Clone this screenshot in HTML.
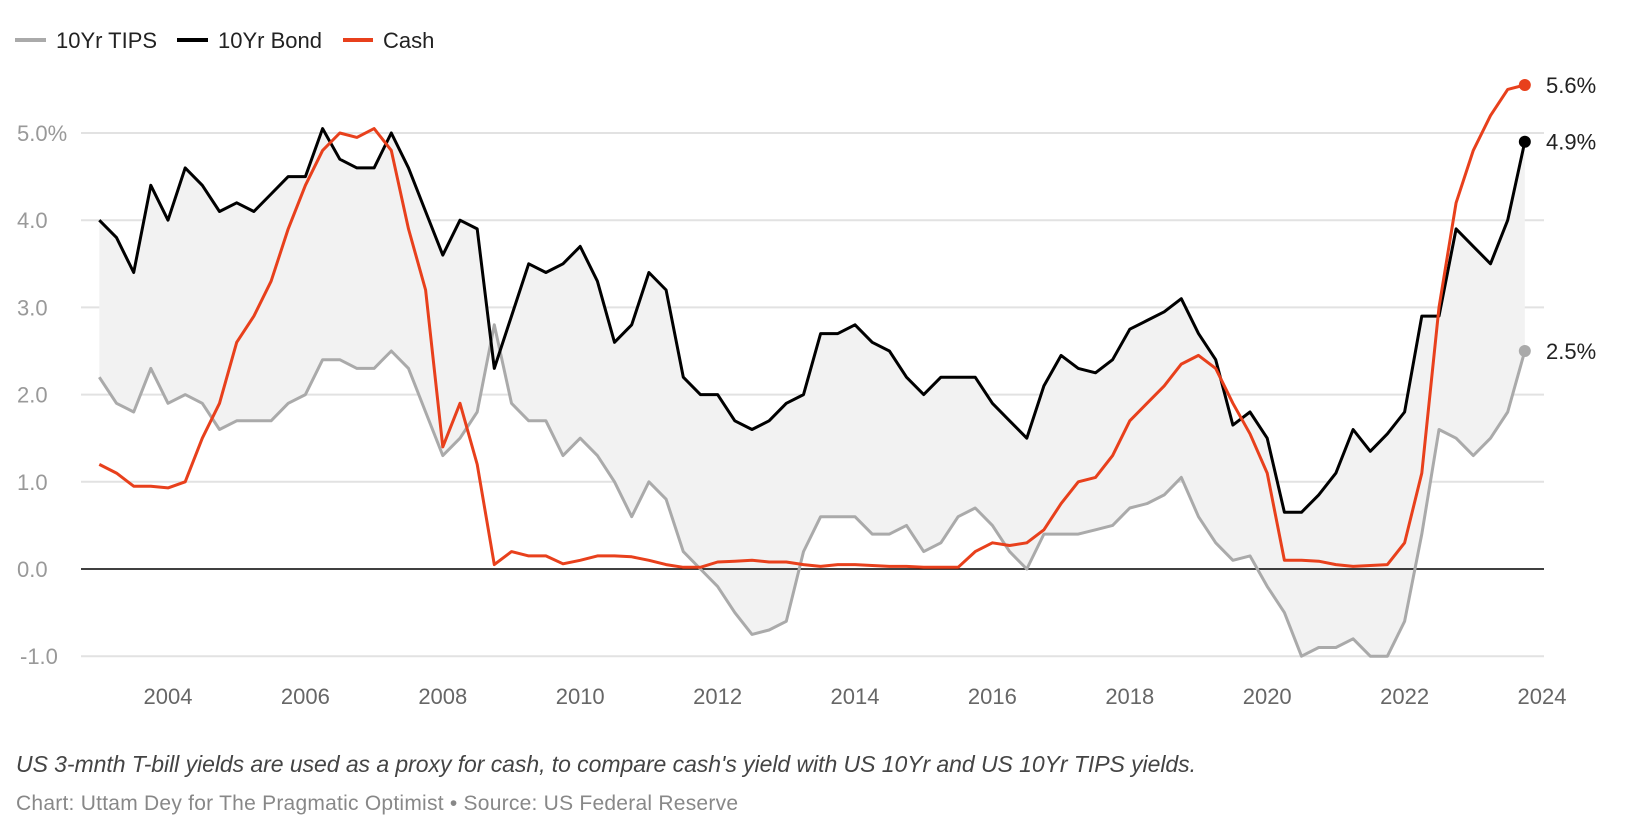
<!DOCTYPE html>
<html><head><meta charset="utf-8"><style>
body{margin:0;background:#fff;width:1630px;height:834px;overflow:hidden;font-family:"Liberation Sans",sans-serif}
svg{display:block}
</style></head><body>
<svg id="chart" width="1630" height="834">
<g id="legend">
 <g><line x1="15" y1="40" x2="46" y2="40" stroke="#aaa" stroke-width="4"/><text x="56" y="48" font-size="22" fill="#222">10Yr TIPS</text></g>
 <g><line x1="177" y1="40" x2="208" y2="40" stroke="#000" stroke-width="4"/><text x="218" y="48" font-size="22" fill="#222">10Yr Bond</text></g>
 <g><line x1="343" y1="40" x2="373" y2="40" stroke="#e8401c" stroke-width="4"/><text x="383" y="48" font-size="22" fill="#222">Cash</text></g>
</g>
<g id="grid"></g>
<g id="area"></g>
<g id="lines"></g>
<g id="xaxis"></g>
<text x="16" y="772" font-size="23" font-style="italic" fill="#444" textLength="1180">US 3-mnth T-bill yields are used as a proxy for cash, to compare cash's yield with US 10Yr and US 10Yr TIPS yields.</text>
<text x="16" y="810" font-size="21" fill="#888" textLength="722">Chart: Uttam Dey for The Pragmatic Optimist • Source: US Federal Reserve</text>
</svg>
<script>
const startYear = 2003.0;
const stepYears = 0.25;
const tips = [2.2,1.9,1.8,2.3, 1.9,2.0,1.9,1.6, 1.7,1.7,1.7,1.9, 2.0,2.4,2.4,2.3, 2.3,2.5,2.3,1.8, 1.3,1.5,1.8,2.8, 1.9,1.7,1.7,1.3, 1.5,1.3,1.0,0.6, 1.0,0.8,0.2,0.0, -0.2,-0.5,-0.75,-0.7, -0.6,0.2,0.6,0.6, 0.6,0.4,0.4,0.5, 0.2,0.3,0.6,0.7, 0.5,0.2,0.0,0.4, 0.4,0.4,0.45,0.5, 0.7,0.75,0.85,1.05, 0.6,0.3,0.1,0.15, -0.2,-0.5,-1.0,-0.9, -0.9,-0.8,-1.0,-1.0, -0.6,0.4,1.6,1.5, 1.3,1.5,1.8,2.5];
const bond = [4.0,3.8,3.4,4.4, 4.0,4.6,4.4,4.1, 4.2,4.1,4.3,4.5, 4.5,5.05,4.7,4.6, 4.6,5.0,4.6,4.1, 3.6,4.0,3.9,2.3, 2.9,3.5,3.4,3.5, 3.7,3.3,2.6,2.8, 3.4,3.2,2.2,2.0, 2.0,1.7,1.6,1.7, 1.9,2.0,2.7,2.7, 2.8,2.6,2.5,2.2, 2.0,2.2,2.2,2.2, 1.9,1.7,1.5,2.1, 2.45,2.3,2.25,2.4, 2.75,2.85,2.95,3.1, 2.7,2.4,1.65,1.8, 1.5,0.65,0.65,0.85, 1.1,1.6,1.35,1.55, 1.8,2.9,2.9,3.9, 3.7,3.5,4.0,4.9];
const cash = [1.2,1.1,0.95,0.95, 0.93,1.0,1.5,1.9, 2.6,2.9,3.3,3.9, 4.4,4.8,5.0,4.95, 5.05,4.8,3.9,3.2, 1.4,1.9,1.2,0.05, 0.2,0.15,0.15,0.06, 0.1,0.15,0.15,0.14, 0.1,0.05,0.02,0.02, 0.08,0.09,0.1,0.08, 0.08,0.05,0.03,0.05, 0.05,0.04,0.03,0.03, 0.02,0.02,0.02,0.2, 0.3,0.27,0.3,0.45, 0.75,1.0,1.05,1.3, 1.7,1.9,2.1,2.35, 2.45,2.3,1.9,1.55, 1.1,0.1,0.1,0.09, 0.05,0.03,0.04,0.05, 0.3,1.1,3.0,4.2, 4.8,5.2,5.5,5.55];
const yTicks = [5,4,3,2,1,0,-1];
const yTickLabels = ["5.0%","4.0","3.0","2.0","1.0","0.0","-1.0"];
const xTicks = [2004,2006,2008,2010,2012,2014,2016,2018,2020,2022,2024];

const NS="http://www.w3.org/2000/svg";
const xs = t => 168 + 68.7*(t-2004);
const ys = v => 569 - 87.2*v;
const tAt = i => startYear + i*stepYears;
function mk(tag, attrs, parent){const e=document.createElementNS(NS,tag);for(const k in attrs)e.setAttribute(k,attrs[k]);parent.appendChild(e);return e;}

const grid=document.getElementById('grid');
yTicks.forEach((v,i)=>{
  if(v!==0){const l=mk('line',{x1:81,x2:1544,y1:ys(v),y2:ys(v),stroke:'#e2e2e2','stroke-width':2},grid);
  
  }
  const t=mk('text',{x:v<0?20:17,y:ys(v)+8,'font-size':22,fill:'#999'},grid);
  t.textContent=yTickLabels[i];
  
  
});
const xa=document.getElementById('xaxis');
xTicks.forEach(y=>{
  const t=mk('text',{x:xs(y),y:704,'font-size':22,fill:'#666','text-anchor':'middle'},xa);
  t.textContent=String(y);
  
  
});

const area=document.getElementById('area');
let pts=bond.map((v,i)=>xs(tAt(i))+','+ys(v));
for(let i=tips.length-1;i>=0;i--)pts.push(xs(tAt(i))+','+ys(tips[i]));
const poly=mk('polygon',{points:pts.join(' '),fill:'#f2f2f2'},area);



const zl=mk('line',{x1:81,x2:1544,y1:ys(0),y2:ys(0),stroke:'#000','stroke-width':1.5},area);



const lines=document.getElementById('lines');
function series(arr,color,name){
  const d=arr.map((v,i)=>(i?'L':'M')+xs(tAt(i)).toFixed(1)+','+ys(v).toFixed(1)).join('');
  const p=mk('path',{d:d,fill:'none',stroke:color,'stroke-width':3,'stroke-linejoin':'round'},lines);
  
  
  const n=arr.length-1;
  const c=mk('circle',{cx:xs(tAt(n)),cy:ys(arr[n]),r:6,fill:color},lines);
  
  
  const t=mk('text',{x:1546,y:ys(arr[n])+8,'font-size':22,fill:'#222'},lines);
  t.textContent=(Math.round(arr[n]*10)/10).toFixed(1)+'%';
  
  
}
series(tips,'#aaaaaa','tips');
series(bond,'#000000','bond');
series(cash,'#e8401c','cash');
</script>
</body></html>
